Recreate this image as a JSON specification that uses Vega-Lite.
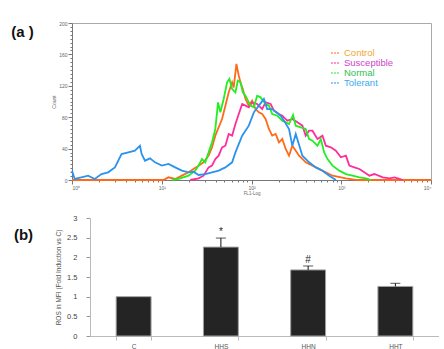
{
  "$schema": "https://vega.github.io/schema/vega-lite/v6.json",
  "padding": {"top": 20, "left": 5, "right": 0, "bottom": 0},
  "background": "white",
  "config": {"view": {"stroke": null}, "font": "Liberation Sans"},
  "spacing": 19,
  "datasets": {
    "hist": [
      {"series": "Control", "log_fl1": 0.0, "count": 0},
      {"series": "Control", "log_fl1": 1.019, "count": 0},
      {"series": "Control", "log_fl1": 1.075, "count": 3.4},
      {"series": "Control", "log_fl1": 1.149, "count": 1.3},
      {"series": "Control", "log_fl1": 1.224, "count": 5.5},
      {"series": "Control", "log_fl1": 1.299, "count": 9.8},
      {"series": "Control", "log_fl1": 1.354, "count": 14.0},
      {"series": "Control", "log_fl1": 1.41, "count": 18.3},
      {"series": "Control", "log_fl1": 1.466, "count": 22.5},
      {"series": "Control", "log_fl1": 1.522, "count": 31.0},
      {"series": "Control", "log_fl1": 1.56, "count": 41.6},
      {"series": "Control", "log_fl1": 1.597, "count": 56.5},
      {"series": "Control", "log_fl1": 1.634, "count": 67.1},
      {"series": "Control", "log_fl1": 1.672, "count": 77.7},
      {"series": "Control", "log_fl1": 1.709, "count": 94.7},
      {"series": "Control", "log_fl1": 1.746, "count": 111.7},
      {"series": "Control", "log_fl1": 1.784, "count": 124.4},
      {"series": "Control", "log_fl1": 1.802, "count": 118.0},
      {"series": "Control", "log_fl1": 1.832, "count": 147.8},
      {"series": "Control", "log_fl1": 1.858, "count": 132.9},
      {"series": "Control", "log_fl1": 1.877, "count": 124.4},
      {"series": "Control", "log_fl1": 1.903, "count": 115.9},
      {"series": "Control", "log_fl1": 1.933, "count": 103.2},
      {"series": "Control", "log_fl1": 1.97, "count": 94.7},
      {"series": "Control", "log_fl1": 2.007, "count": 101.1},
      {"series": "Control", "log_fl1": 2.045, "count": 90.4},
      {"series": "Control", "log_fl1": 2.082, "count": 86.2},
      {"series": "Control", "log_fl1": 2.119, "count": 84.1},
      {"series": "Control", "log_fl1": 2.157, "count": 77.7},
      {"series": "Control", "log_fl1": 2.194, "count": 65.0},
      {"series": "Control", "log_fl1": 2.231, "count": 56.5},
      {"series": "Control", "log_fl1": 2.269, "count": 58.6},
      {"series": "Control", "log_fl1": 2.306, "count": 48.0},
      {"series": "Control", "log_fl1": 2.343, "count": 52.2},
      {"series": "Control", "log_fl1": 2.381, "count": 39.5},
      {"series": "Control", "log_fl1": 2.418, "count": 31.0},
      {"series": "Control", "log_fl1": 2.455, "count": 43.7},
      {"series": "Control", "log_fl1": 2.493, "count": 37.4},
      {"series": "Control", "log_fl1": 2.53, "count": 31.0},
      {"series": "Control", "log_fl1": 2.604, "count": 22.5},
      {"series": "Control", "log_fl1": 2.679, "count": 18.3},
      {"series": "Control", "log_fl1": 2.791, "count": 11.9},
      {"series": "Control", "log_fl1": 2.903, "count": 5.5},
      {"series": "Control", "log_fl1": 3.052, "count": 2.1},
      {"series": "Control", "log_fl1": 3.164, "count": 0},
      {"series": "Control", "log_fl1": 4.0, "count": 0},

      {"series": "Susceptible", "log_fl1": 1.317, "count": 0},
      {"series": "Susceptible", "log_fl1": 1.41, "count": 2.1},
      {"series": "Susceptible", "log_fl1": 1.466, "count": 5.5},
      {"series": "Susceptible", "log_fl1": 1.522, "count": 16.1},
      {"series": "Susceptible", "log_fl1": 1.56, "count": 18.3},
      {"series": "Susceptible", "log_fl1": 1.597, "count": 26.7},
      {"series": "Susceptible", "log_fl1": 1.634, "count": 31.0},
      {"series": "Susceptible", "log_fl1": 1.672, "count": 41.6},
      {"series": "Susceptible", "log_fl1": 1.709, "count": 43.7},
      {"series": "Susceptible", "log_fl1": 1.746, "count": 58.6},
      {"series": "Susceptible", "log_fl1": 1.784, "count": 56.5},
      {"series": "Susceptible", "log_fl1": 1.821, "count": 71.3},
      {"series": "Susceptible", "log_fl1": 1.858, "count": 84.1},
      {"series": "Susceptible", "log_fl1": 1.896, "count": 96.8},
      {"series": "Susceptible", "log_fl1": 1.933, "count": 94.7},
      {"series": "Susceptible", "log_fl1": 1.97, "count": 92.6},
      {"series": "Susceptible", "log_fl1": 2.007, "count": 98.9},
      {"series": "Susceptible", "log_fl1": 2.063, "count": 96.8},
      {"series": "Susceptible", "log_fl1": 2.119, "count": 90.4},
      {"series": "Susceptible", "log_fl1": 2.157, "count": 98.9},
      {"series": "Susceptible", "log_fl1": 2.213, "count": 96.8},
      {"series": "Susceptible", "log_fl1": 2.25, "count": 88.3},
      {"series": "Susceptible", "log_fl1": 2.306, "count": 84.1},
      {"series": "Susceptible", "log_fl1": 2.343, "count": 81.9},
      {"series": "Susceptible", "log_fl1": 2.399, "count": 75.6},
      {"series": "Susceptible", "log_fl1": 2.455, "count": 77.7},
      {"series": "Susceptible", "log_fl1": 2.511, "count": 73.5},
      {"series": "Susceptible", "log_fl1": 2.567, "count": 69.2},
      {"series": "Susceptible", "log_fl1": 2.604, "count": 56.5},
      {"series": "Susceptible", "log_fl1": 2.642, "count": 62.8},
      {"series": "Susceptible", "log_fl1": 2.679, "count": 62.8},
      {"series": "Susceptible", "log_fl1": 2.735, "count": 52.2},
      {"series": "Susceptible", "log_fl1": 2.791, "count": 56.5},
      {"series": "Susceptible", "log_fl1": 2.828, "count": 43.7},
      {"series": "Susceptible", "log_fl1": 2.884, "count": 41.6},
      {"series": "Susceptible", "log_fl1": 2.94, "count": 37.4},
      {"series": "Susceptible", "log_fl1": 2.996, "count": 28.9},
      {"series": "Susceptible", "log_fl1": 3.052, "count": 31.0},
      {"series": "Susceptible", "log_fl1": 3.09, "count": 18.3},
      {"series": "Susceptible", "log_fl1": 3.146, "count": 16.1},
      {"series": "Susceptible", "log_fl1": 3.201, "count": 14.0},
      {"series": "Susceptible", "log_fl1": 3.257, "count": 9.8},
      {"series": "Susceptible", "log_fl1": 3.313, "count": 5.5},
      {"series": "Susceptible", "log_fl1": 3.369, "count": 7.6},
      {"series": "Susceptible", "log_fl1": 3.463, "count": 3.4},
      {"series": "Susceptible", "log_fl1": 3.537, "count": 2.1},
      {"series": "Susceptible", "log_fl1": 3.593, "count": 3.4},
      {"series": "Susceptible", "log_fl1": 3.649, "count": 1.3},
      {"series": "Susceptible", "log_fl1": 3.687, "count": 0},

      {"series": "Normal", "log_fl1": 1.112, "count": 0},
      {"series": "Normal", "log_fl1": 1.187, "count": 1.3},
      {"series": "Normal", "log_fl1": 1.299, "count": 5.5},
      {"series": "Normal", "log_fl1": 1.373, "count": 11.9},
      {"series": "Normal", "log_fl1": 1.41, "count": 18.3},
      {"series": "Normal", "log_fl1": 1.448, "count": 26.7},
      {"series": "Normal", "log_fl1": 1.485, "count": 22.5},
      {"series": "Normal", "log_fl1": 1.522, "count": 35.2},
      {"series": "Normal", "log_fl1": 1.56, "count": 48.0},
      {"series": "Normal", "log_fl1": 1.597, "count": 65.0},
      {"series": "Normal", "log_fl1": 1.627, "count": 98.9},
      {"series": "Normal", "log_fl1": 1.653, "count": 86.2},
      {"series": "Normal", "log_fl1": 1.69, "count": 103.2},
      {"series": "Normal", "log_fl1": 1.728, "count": 124.4},
      {"series": "Normal", "log_fl1": 1.754, "count": 128.7},
      {"series": "Normal", "log_fl1": 1.784, "count": 115.9},
      {"series": "Normal", "log_fl1": 1.821, "count": 111.7},
      {"series": "Normal", "log_fl1": 1.847, "count": 126.5},
      {"series": "Normal", "log_fl1": 1.877, "count": 124.4},
      {"series": "Normal", "log_fl1": 1.903, "count": 111.7},
      {"series": "Normal", "log_fl1": 1.933, "count": 107.4},
      {"series": "Normal", "log_fl1": 1.989, "count": 94.7},
      {"series": "Normal", "log_fl1": 2.026, "count": 92.6},
      {"series": "Normal", "log_fl1": 2.063, "count": 107.4},
      {"series": "Normal", "log_fl1": 2.101, "count": 105.3},
      {"series": "Normal", "log_fl1": 2.157, "count": 96.8},
      {"series": "Normal", "log_fl1": 2.194, "count": 94.7},
      {"series": "Normal", "log_fl1": 2.231, "count": 84.1},
      {"series": "Normal", "log_fl1": 2.287, "count": 81.9},
      {"series": "Normal", "log_fl1": 2.343, "count": 75.6},
      {"series": "Normal", "log_fl1": 2.418, "count": 71.3},
      {"series": "Normal", "log_fl1": 2.463, "count": 82.8},
      {"series": "Normal", "log_fl1": 2.493, "count": 69.2},
      {"series": "Normal", "log_fl1": 2.549, "count": 67.1},
      {"series": "Normal", "log_fl1": 2.604, "count": 65.0},
      {"series": "Normal", "log_fl1": 2.642, "count": 52.2},
      {"series": "Normal", "log_fl1": 2.679, "count": 50.1},
      {"series": "Normal", "log_fl1": 2.735, "count": 43.7},
      {"series": "Normal", "log_fl1": 2.772, "count": 52.2},
      {"series": "Normal", "log_fl1": 2.81, "count": 35.2},
      {"series": "Normal", "log_fl1": 2.847, "count": 26.7},
      {"series": "Normal", "log_fl1": 2.903, "count": 18.3},
      {"series": "Normal", "log_fl1": 2.978, "count": 11.9},
      {"series": "Normal", "log_fl1": 3.052, "count": 7.6},
      {"series": "Normal", "log_fl1": 3.127, "count": 5.5},
      {"series": "Normal", "log_fl1": 3.201, "count": 3.4},
      {"series": "Normal", "log_fl1": 3.276, "count": 2.1},
      {"series": "Normal", "log_fl1": 3.332, "count": 0},

      {"series": "Tolerant", "log_fl1": 0.0, "count": 11.9},
      {"series": "Tolerant", "log_fl1": 0.03, "count": 1.3},
      {"series": "Tolerant", "log_fl1": 0.104, "count": 3.4},
      {"series": "Tolerant", "log_fl1": 0.179, "count": 5.5},
      {"series": "Tolerant", "log_fl1": 0.254, "count": 1.3},
      {"series": "Tolerant", "log_fl1": 0.328, "count": 7.6},
      {"series": "Tolerant", "log_fl1": 0.403, "count": 9.8},
      {"series": "Tolerant", "log_fl1": 0.478, "count": 16.1},
      {"series": "Tolerant", "log_fl1": 0.552, "count": 33.1},
      {"series": "Tolerant", "log_fl1": 0.627, "count": 35.2},
      {"series": "Tolerant", "log_fl1": 0.701, "count": 37.4},
      {"series": "Tolerant", "log_fl1": 0.757, "count": 43.7},
      {"series": "Tolerant", "log_fl1": 0.776, "count": 33.1},
      {"series": "Tolerant", "log_fl1": 0.813, "count": 24.6},
      {"series": "Tolerant", "log_fl1": 0.869, "count": 27.6},
      {"series": "Tolerant", "log_fl1": 0.925, "count": 22.5},
      {"series": "Tolerant", "log_fl1": 1.0, "count": 18.3},
      {"series": "Tolerant", "log_fl1": 1.075, "count": 20.4},
      {"series": "Tolerant", "log_fl1": 1.149, "count": 16.1},
      {"series": "Tolerant", "log_fl1": 1.224, "count": 11.9},
      {"series": "Tolerant", "log_fl1": 1.299, "count": 9.8},
      {"series": "Tolerant", "log_fl1": 1.354, "count": 10.6},
      {"series": "Tolerant", "log_fl1": 1.41, "count": 6.4},
      {"series": "Tolerant", "log_fl1": 1.485, "count": 7.6},
      {"series": "Tolerant", "log_fl1": 1.56, "count": 9.8},
      {"series": "Tolerant", "log_fl1": 1.634, "count": 11.9},
      {"series": "Tolerant", "log_fl1": 1.709, "count": 16.1},
      {"series": "Tolerant", "log_fl1": 1.784, "count": 22.5},
      {"series": "Tolerant", "log_fl1": 1.821, "count": 35.2},
      {"series": "Tolerant", "log_fl1": 1.896, "count": 56.5},
      {"series": "Tolerant", "log_fl1": 1.97, "count": 69.2},
      {"series": "Tolerant", "log_fl1": 2.026, "count": 86.2},
      {"series": "Tolerant", "log_fl1": 2.082, "count": 94.7},
      {"series": "Tolerant", "log_fl1": 2.138, "count": 103.2},
      {"series": "Tolerant", "log_fl1": 2.175, "count": 90.4},
      {"series": "Tolerant", "log_fl1": 2.231, "count": 90.4},
      {"series": "Tolerant", "log_fl1": 2.325, "count": 81.9},
      {"series": "Tolerant", "log_fl1": 2.362, "count": 75.6},
      {"series": "Tolerant", "log_fl1": 2.418, "count": 65.0},
      {"series": "Tolerant", "log_fl1": 2.455, "count": 43.7},
      {"series": "Tolerant", "log_fl1": 2.493, "count": 58.6},
      {"series": "Tolerant", "log_fl1": 2.567, "count": 31.0},
      {"series": "Tolerant", "log_fl1": 2.642, "count": 22.5},
      {"series": "Tolerant", "log_fl1": 2.716, "count": 16.1},
      {"series": "Tolerant", "log_fl1": 2.791, "count": 11.9},
      {"series": "Tolerant", "log_fl1": 2.866, "count": 5.5},
      {"series": "Tolerant", "log_fl1": 2.94, "count": 0}
    ],
    "bars": [
      {"group": "C", "fold": 1.0, "upper": null, "note": ""},
      {"group": "HHS", "fold": 2.26, "upper": 2.49, "note": "*"},
      {"group": "HHN", "fold": 1.68, "upper": 1.78, "note": "#"},
      {"group": "HHT", "fold": 1.26, "upper": 1.34, "note": ""}
    ]
  },
  "vconcat": [
    {
      "spacing": 11,
      "hconcat": [
        {
          "width": 35,
          "height": 18,
          "data": {"values": [{"t": "(a )"}]},
          "mark": {"type": "text", "fontSize": 15, "fontWeight": "bold", "color": "#111"},
          "encoding": {"text": {"field": "t"}}
        },
        {
          "width": 359,
          "height": 157,
          "view": {"stroke": "#aaaaaa"},
          "data": {"name": "hist"},
          "mark": {"type": "line", "strokeWidth": 1.8, "interpolate": "linear"},
          "encoding": {
            "x": {
              "field": "log_fl1",
              "type": "quantitative",
              "scale": {"domain": [0, 4], "nice": false, "zero": false},
              "axis": {
                "title": "FL1-Log",
                "titleFontSize": 4.5,
                "titleFontWeight": "normal",
                "titleColor": "#666",
                "titlePadding": 0,
                "values": [0, 0.301, 0.477, 0.602, 0.699, 0.778, 0.845, 0.903, 0.954, 1, 1.301, 1.477, 1.602, 1.699, 1.778, 1.845, 1.903, 1.954, 2, 2.301, 2.477, 2.602, 2.699, 2.778, 2.845, 2.903, 2.954, 3, 3.301, 3.477, 3.602, 3.699, 3.778, 3.845, 3.903, 3.954, 4],
                "labelExpr": "datum.value % 1 === 0 ? '10' + ['⁰','¹','²','³','⁴'][datum.value] : ''",
                "labelFontSize": 5,
                "labelColor": "#666",
                "labelOverlap": false,
                "labelPadding": 1,
                "tickSize": {"condition": {"test": "datum.value % 1 === 0", "value": 4}, "value": 2},
                "tickColor": "#777",
                "domainColor": "#777",
                "grid": false
              }
            },
            "y": {
              "field": "count",
              "type": "quantitative",
              "scale": {"domain": [0, 200], "nice": false},
              "axis": {
                "title": "Count",
                "titleFontSize": 5,
                "titleFontWeight": "normal",
                "titleColor": "#666",
                "titlePadding": 2,
                "values": [0, 5, 10, 15, 20, 25, 30, 35, 40, 45, 50, 55, 60, 65, 70, 75, 80, 85, 90, 95, 100, 105, 110, 115, 120, 125, 130, 135, 140, 145, 150, 155, 160, 165, 170, 175, 180, 185, 190, 195, 200],
                "labelExpr": "datum.value % 40 === 0 ? datum.label : ''",
                "labelFontSize": 5,
                "labelColor": "#666",
                "labelOverlap": false,
                "labelPadding": 1,
                "tickSize": {"condition": {"test": "datum.value % 40 === 0", "value": 4}, "value": 2},
                "tickColor": "#777",
                "domainColor": "#777",
                "grid": false
              }
            },
            "color": {
              "field": "series",
              "type": "nominal",
              "sort": ["Control", "Susceptible", "Normal", "Tolerant"],
              "scale": {
                "domain": ["Control", "Susceptible", "Normal", "Tolerant"],
                "range": ["#ff6a1a", "#ff2d9b", "#22ee22", "#2b93ee"]
              },
              "legend": {
                "orient": "none",
                "legendX": 325,
                "legendY": 25,
                "title": null,
                "padding": 0,
                "symbolType": "stroke",
                "symbolSize": 64,
                "symbolStrokeWidth": 1.2,
                "symbolDash": [2, 1],
                "labelFontSize": 9.5,
                "labelFont": "Liberation Sans",
                "labelOffset": 4,
                "rowPadding": 0,
                "encode": {
                  "labels": {
                    "update": {
                      "fill": {"signal": "datum.value === 'Control' ? '#f0a830' : datum.value === 'Susceptible' ? '#cc44cc' : datum.value === 'Normal' ? '#2ec050' : '#3aaaf0'"}
                    }
                  }
                }
              }
            }
          }
        }
      ]
    },
    {
      "spacing": 13,
      "hconcat": [
        {
          "width": 37,
          "height": 34,
          "data": {"values": [{"t": "(b)"}]},
          "mark": {"type": "text", "fontSize": 15, "fontWeight": "bold", "color": "#111"},
          "encoding": {"text": {"field": "t"}}
        },
        {
          "width": 349,
          "height": 118,
          "data": {"name": "bars"},
          "encoding": {
            "x": {
              "field": "group",
              "type": "nominal",
              "sort": null,
              "scale": {"paddingInner": 0.6, "paddingOuter": 0.3},
              "axis": {
                "title": null,
                "labelAngle": 0,
                "labelFontSize": 6.5,
                "labelColor": "#555",
                "labelPadding": 3,
                "tickBand": "extent",
                "tickSize": 4,
                "tickColor": "#bbbbbb",
                "domainColor": "#bbbbbb"
              }
            }
          },
          "layer": [
            {
              "mark": {"type": "bar", "color": "#242424", "stroke": "#a0a0a0", "strokeWidth": 1},
              "encoding": {
                "y": {
                  "field": "fold",
                  "type": "quantitative",
                  "scale": {"domain": [0, 3], "nice": false},
                  "axis": {
                    "title": "ROS in MFI (Fold Induction vs C)",
                    "titleFontSize": 6.5,
                    "titleFontWeight": "normal",
                    "titleColor": "#555",
                    "titlePadding": 5,
                    "values": [0, 0.5, 1, 1.5, 2, 2.5, 3],
                    "labelExpr": "'' + datum.value",
                    "labelOverlap": false,
                    "labelFontSize": 7.5,
                    "labelColor": "#444",
                    "labelPadding": 9,
                    "tickSize": 4,
                    "tickColor": "#999999",
                    "domainColor": "#bbbbbb",
                    "grid": false
                  }
                }
              }
            },
            {
              "mark": {"type": "rule", "color": "#111", "strokeWidth": 1},
              "encoding": {
                "y": {
                  "field": "fold",
                  "type": "quantitative",
                  "scale": {"domain": [0, 3], "nice": false},
                  "axis": {
                    "title": "ROS in MFI (Fold Induction vs C)",
                    "titleFontSize": 6.5,
                    "titleFontWeight": "normal",
                    "titleColor": "#555",
                    "titlePadding": 5,
                    "values": [0, 0.5, 1, 1.5, 2, 2.5, 3],
                    "labelExpr": "'' + datum.value",
                    "labelOverlap": false,
                    "labelFontSize": 7.5,
                    "labelColor": "#444",
                    "labelPadding": 9,
                    "tickSize": 4,
                    "tickColor": "#999999",
                    "domainColor": "#bbbbbb",
                    "grid": false
                  }
                },
                "y2": {"field": "upper"}
              }
            },
            {
              "mark": {"type": "tick", "color": "#111", "size": 10, "thickness": 1},
              "encoding": {
                "y": {
                  "field": "upper",
                  "type": "quantitative",
                  "scale": {"domain": [0, 3], "nice": false},
                  "axis": {
                    "title": "ROS in MFI (Fold Induction vs C)",
                    "titleFontSize": 6.5,
                    "titleFontWeight": "normal",
                    "titleColor": "#555",
                    "titlePadding": 5,
                    "values": [0, 0.5, 1, 1.5, 2, 2.5, 3],
                    "labelExpr": "'' + datum.value",
                    "labelOverlap": false,
                    "labelFontSize": 7.5,
                    "labelColor": "#444",
                    "labelPadding": 9,
                    "tickSize": 4,
                    "tickColor": "#999999",
                    "domainColor": "#bbbbbb",
                    "grid": false
                  }
                }
              }
            },
            {
              "mark": {"type": "text", "fontSize": 10, "dy": -3, "baseline": "alphabetic", "color": "#222"},
              "encoding": {
                "y": {
                  "field": "upper",
                  "type": "quantitative",
                  "scale": {"domain": [0, 3], "nice": false},
                  "axis": {
                    "title": "ROS in MFI (Fold Induction vs C)",
                    "titleFontSize": 6.5,
                    "titleFontWeight": "normal",
                    "titleColor": "#555",
                    "titlePadding": 5,
                    "values": [0, 0.5, 1, 1.5, 2, 2.5, 3],
                    "labelExpr": "'' + datum.value",
                    "labelOverlap": false,
                    "labelFontSize": 7.5,
                    "labelColor": "#444",
                    "labelPadding": 9,
                    "tickSize": 4,
                    "tickColor": "#999999",
                    "domainColor": "#bbbbbb",
                    "grid": false
                  }
                },
                "text": {"field": "note"}
              }
            }
          ]
        }
      ]
    }
  ]
}
